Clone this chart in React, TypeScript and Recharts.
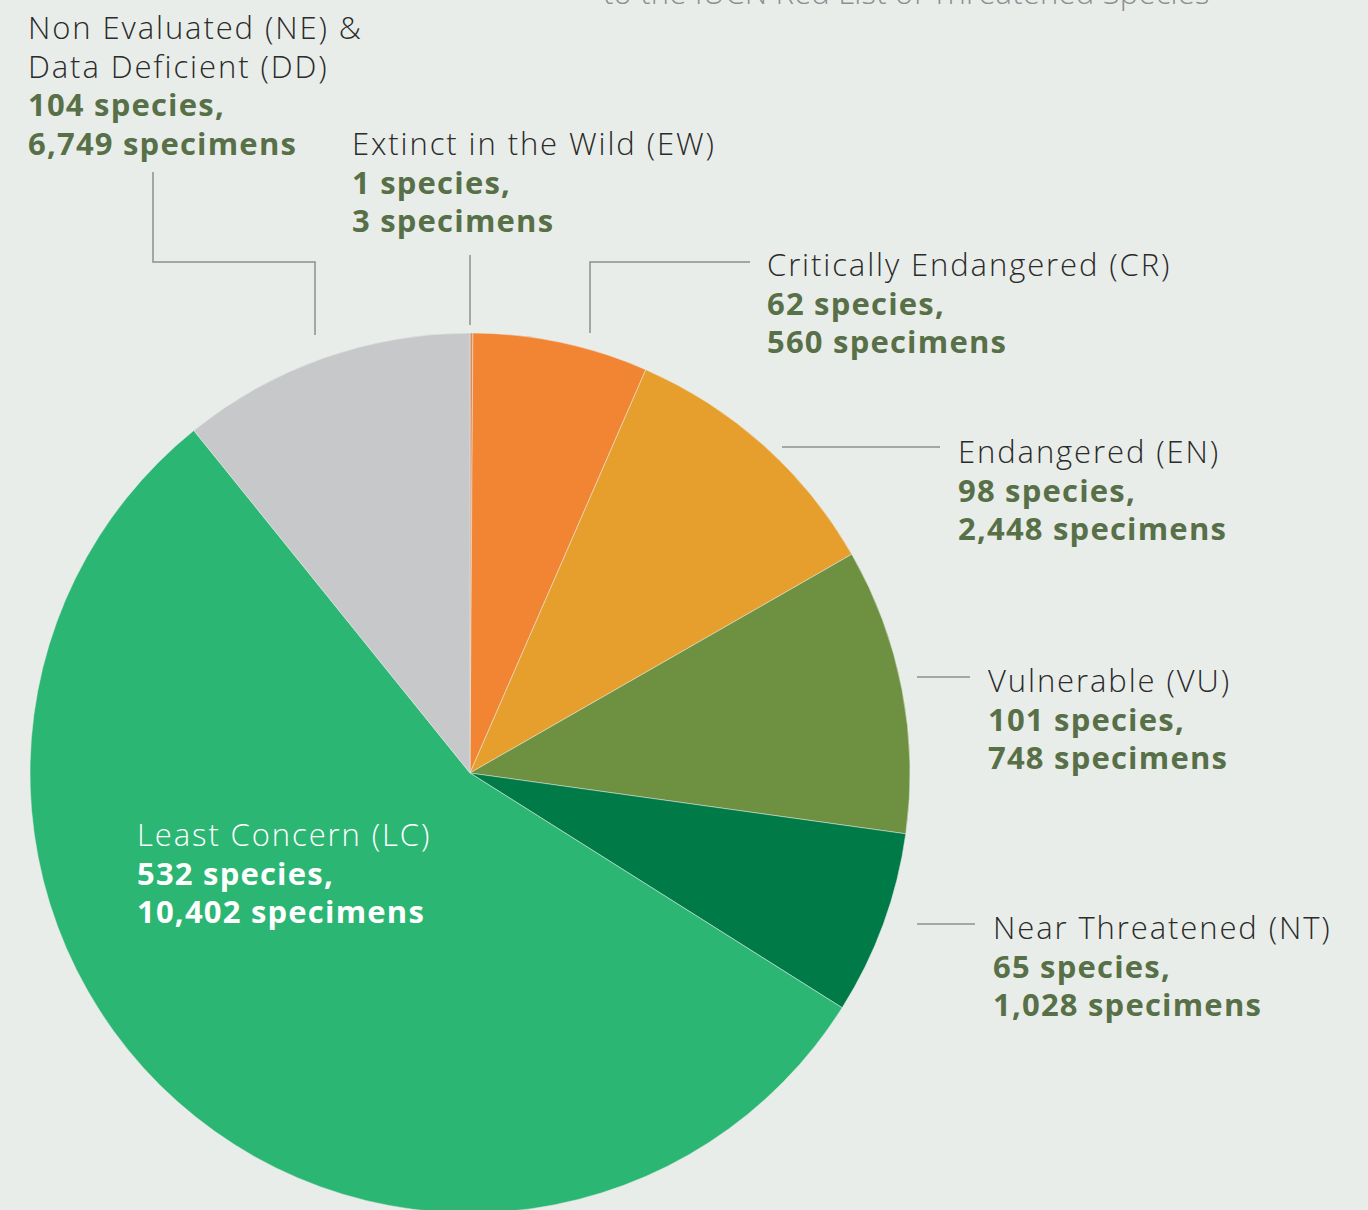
import { PieChart, Pie, Cell } from 'recharts';

// IUCN categories, in drawing order (clockwise from 12 o'clock)
const categoryLines = [
  ['Extinct in the Wild (EW)'],
  ['Critically Endangered (CR)'],
  ['Endangered (EN)'],
  ['Vulnerable (VU)'],
  ['Near Threatened (NT)'],
  ['Least Concern (LC)'],
  ['Non Evaluated (NE) &', 'Data Deficient (DD)'],
];
const speciesCounts = [1, 62, 98, 101, 65, 532, 104];
const specimenCounts = [3, 560, 2448, 748, 1028, 10402, 6749];

const sliceColors = ['#d98a5c', '#f18533', '#e69f2c', '#6d9140', '#007a47', '#2bb673', '#c7c8ca'];

// label placement relative to the pie centre: text anchor + leader polyline
const labelLayout = [
  { dx: -118, dy: -618, line: [[0, -448], [0, -518]] },
  { dx: 297, dy: -497, line: [[120, -440], [120, -511], [280, -511]] },
  { dx: 488, dy: -310, line: [[312, -326], [470, -326]] },
  { dx: 518, dy: -81, line: [[447, -96], [500, -96]] },
  { dx: 523, dy: 166, line: [[447, 151], [505, 151]] },
  { dx: -333, dy: 73, line: [] },
  { dx: -442, dy: -734, line: [[-155, -438], [-155, -511], [-317, -511], [-317, -601]] },
];

const data = categoryLines.map((lines, i) => ({
  name: lines.join(' '),
  species: speciesCounts[i],
  specimens: specimenCounts[i],
}));

const FONT = '"Open Sans", Lato, sans-serif';
const LINE_H = 38.5;

const renderLabel = (props: any) => {
  const { cx, cy, index } = props;
  const lay = labelLayout[index];
  const inside = index === 5;
  const x = cx + lay.dx;
  const y = cy + lay.dy;
  const names = categoryLines[index];
  const pts = lay.line.map(([px, py]) => `${cx + px},${cy + py}`).join(' ');
  return (
    <g key={`lbl-${index}`}>
      {pts && <polyline points={pts} fill="none" stroke="#8b908d" strokeWidth={1.5} />}
      <text x={x} y={y} fontFamily={FONT} fontSize={31} style={{ fontFamily: FONT }}>
        {names.map((n, k) => (
          <tspan key={k} x={x} y={y + k * LINE_H} fill={inside ? '#ffffff' : '#2b2b2b'} fontWeight={300} letterSpacing={1.9}>
            {n}
          </tspan>
        ))}
        <tspan x={x} y={y + names.length * LINE_H} fill={inside ? '#ffffff' : '#587048'} fontWeight={700} letterSpacing={1.2}>
          {`${speciesCounts[index]} species,`}
        </tspan>
        <tspan x={x} y={y + (names.length + 1) * LINE_H} fill={inside ? '#ffffff' : '#587048'} fontWeight={700} letterSpacing={1.2}>
          {`${specimenCounts[index].toLocaleString('en-US')} specimens`}
        </tspan>
      </text>
    </g>
  );
};

export default function App() {
  return (
    <div style={{ position: 'absolute', left: 0, top: 0, width: 1368, height: 1210, background: '#e9ede9', overflow: 'hidden' }}>
      <div
        style={{
          position: 'absolute',
          left: 603,
          top: -29,
          fontFamily: FONT,
          fontSize: 31,
          fontWeight: 300,
          letterSpacing: 0.2,
          color: '#8c8f91',
          whiteSpace: 'nowrap',
        }}
      >
        to the IUCN Red List of Threatened Species
      </div>
      <PieChart width={1368} height={1210} margin={{ top: 0, right: 0, bottom: 0, left: 0 }}>
        <Pie
          data={data}
          dataKey="species"
          nameKey="name"
          cx={470}
          cy={773}
          outerRadius={440}
          startAngle={90}
          endAngle={-270}
          stroke="#e9ede9"
          strokeWidth={0.5}
          label={renderLabel}
          labelLine={false}
          isAnimationActive={false}
        >
          {data.map((d, i) => (
            <Cell key={d.name} fill={sliceColors[i]} />
          ))}
        </Pie>
      </PieChart>
    </div>
  );
}
